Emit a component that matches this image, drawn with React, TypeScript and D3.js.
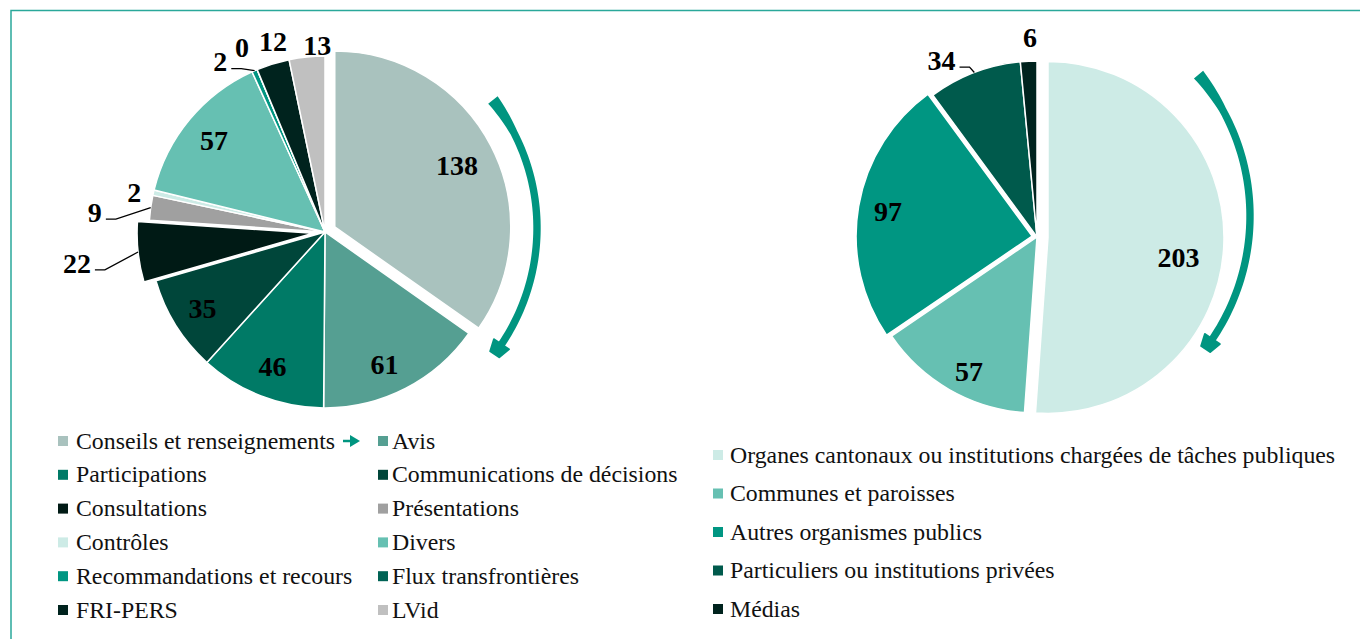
import React, { useEffect, useRef } from 'react';
import * as d3 from 'd3';

// left pie: kinds of activity
const activityLabels = [
  'Conseils et renseignements',
  'Avis',
  'Participations',
  'Communications de décisions',
  'Consultations',
  'Présentations',
  'Contrôles',
  'Divers',
  'Recommandations et recours',
  'Flux transfrontières',
  'FRI-PERS',
  'LVid',
];
const activityValues = [138, 61, 46, 35, 22, 9, 2, 57, 2, 0, 12, 13];
const activityColors = [
  '#a9c2be', '#559f92', '#007a66', '#00463a', '#001a15', '#a0a0a0',
  '#cdebe6', '#66c0b2', '#009682', '#006355', '#00231e', '#c0c0c0',
];

// right pie: kinds of requester
const requesterLabels = [
  'Organes cantonaux ou institutions chargées de tâches publiques',
  'Communes et paroisses',
  'Autres organismes publics',
  'Particuliers ou institutions privées',
  'Médias',
];
const requesterValues = [203, 57, 97, 34, 6];
const requesterColors = ['#cdebe6', '#66c0b2', '#009682', '#005a4c', '#00231e'];

const FONT = 'Liberation Serif';
const ARROW = '#009580';

interface Slice {
  label: string;
  value: number;
  color: string;
}

interface LabelPlace {
  r: number;
  da: number;
  leader?: boolean;
}

interface PieOptions {
  cx: number;
  cy: number;
  r: number;
  inner: number;
  explode: Record<string, number>;
  place: Record<string, LabelPlace>;
}

const polar = (a: number, rad: number): [number, number] => [Math.sin(a) * rad, -Math.cos(a) * rad];

function drawPie(svg: d3.Selection<SVGSVGElement, unknown, null, undefined>, slices: Slice[], opts: PieOptions) {
  const pie = d3.pie<Slice>().sort(null).value(d => d.value);
  const arcs = pie(slices);
  const arc = d3.arc<d3.PieArcDatum<Slice>>().innerRadius(0).outerRadius(opts.r);
  const mid = (d: d3.PieArcDatum<Slice>) => (d.startAngle + d.endAngle) / 2;
  const offset = (d: d3.PieArcDatum<Slice>) => polar(mid(d), opts.explode[d.data.label] || 0);

  const g = svg.append('g').attr('transform', `translate(${opts.cx},${opts.cy})`);

  g.selectAll('path.slice')
    .data(arcs)
    .enter()
    .append('path')
    .attr('class', 'slice')
    .attr('transform', d => `translate(${offset(d)[0]},${offset(d)[1]})`)
    .attr('d', arc)
    .attr('fill', d => d.data.color)
    .attr('stroke', '#fff')
    .attr('stroke-width', 1.5)
    .attr('stroke-linejoin', 'round');

  arcs.forEach(d => {
    const [ox, oy] = offset(d);
    const p = opts.place[d.data.label];
    let x: number, y: number;
    if (!p) {
      [x, y] = polar(mid(d), opts.r * opts.inner);
    } else {
      [x, y] = polar(mid(d) + (p.da * Math.PI) / 180, p.r);
    }
    x += ox;
    y += oy;
    const txt = String(d.data.value);
    g.append('text')
      .attr('x', x)
      .attr('y', y)
      .attr('dy', '0.35em')
      .attr('text-anchor', 'middle')
      .attr('font-family', FONT)
      .attr('font-weight', 'bold')
      .attr('font-size', 28)
      .attr('fill', '#000')
      .text(txt);

    if (p && p.leader) {
      const half = (txt.length * 14) / 2;
      const x0 = x + half + 4;
      const y0 = y + 7;
      const [ex, ey] = polar(mid(d), opts.r);
      g.append('path')
        .attr('d', `M${x0},${y0}H${x0 + 10}L${ex + ox},${ey + oy}`)
        .attr('fill', 'none')
        .attr('stroke', '#000')
        .attr('stroke-width', 1.3);
    }
  });
}

// curved arrow running clockwise beside a pie
function drawArrow(svg: d3.Selection<SVGSVGElement, unknown, null, undefined>, cx: number, cy: number, r: number, a0: number, a1: number) {
  const start = (a0 * Math.PI) / 180;
  const headAt = ((a1 - 4) * Math.PI) / 180;
  const steps = 60;
  const outer: [number, number][] = [];
  const inner: [number, number][] = [];
  for (let i = 0; i <= steps; i++) {
    const t = i / steps;
    const a = start + (headAt - start) * t;
    const w = t < 0.15 ? 6 - (t / 0.15) * 2.3 : 3.7;
    const [x1, y1] = polar(a, r + w);
    const [x2, y2] = polar(a, r - w);
    outer.push([cx + x1, cy + y1]);
    inner.push([cx + x2, cy + y2]);
  }
  const band = outer.concat(inner.reverse());
  svg.append('path')
    .attr('d', 'M' + band.map(p => p.join(',')).join('L') + 'Z')
    .attr('fill', ARROW);

  // arrow head
  const [bx, by] = polar(headAt, r);
  const tx = Math.cos(headAt);
  const ty = Math.sin(headAt);
  const nx = Math.sin(headAt);
  const ny = -Math.cos(headAt);
  const base = [cx + bx, cy + by];
  const hw = 9;
  const hl = 12;
  const head = [
    [base[0] + nx * hw, base[1] + ny * hw],
    [base[0] + nx * hw * 0.6 + tx * hl, base[1] + ny * hw * 0.6 + ty * hl],
    [base[0] - nx * hw * 0.6 + tx * hl, base[1] - ny * hw * 0.6 + ty * hl],
    [base[0] - nx * hw, base[1] - ny * hw],
  ];
  svg.append('path')
    .attr('d', 'M' + head.map(p => p.join(',')).join('L') + 'Z')
    .attr('fill', ARROW)
    .attr('stroke', ARROW)
    .attr('stroke-width', 2)
    .attr('stroke-linejoin', 'round');
}

function drawLegend(
  svg: d3.Selection<SVGSVGElement, unknown, null, undefined>,
  labels: string[],
  colors: string[],
  cols: { sx: number; tx: number }[],
  y0: number,
  step: number,
) {
  labels.forEach((label, i) => {
    const col = cols[i % cols.length];
    const row = Math.floor(i / cols.length);
    const y = y0 + row * step;
    svg.append('rect')
      .attr('x', col.sx)
      .attr('y', y - 5)
      .attr('width', 10)
      .attr('height', 10)
      .attr('fill', colors[i]);
    svg.append('text')
      .attr('x', col.tx)
      .attr('y', y + 7.5)
      .attr('font-family', FONT)
      .attr('font-size', 23.8)
      .attr('fill', '#111')
      .text(label);
  });
}

export default function App() {
  const svgRef = useRef<SVGSVGElement>(null);

  useEffect(() => {
    if (!svgRef.current) return;
    const svg = d3.select(svgRef.current);
    svg.selectAll('*').remove();

    svg.append('rect').attr('width', 1360).attr('height', 639).attr('fill', '#fff');

    // frame
    svg.append('path')
      .attr('d', 'M11,639V10.5H1360')
      .attr('fill', 'none')
      .attr('stroke', '#2aa89a')
      .attr('stroke-width', 1.5);

    const activity: Slice[] = activityLabels.map((label, i) => ({
      label,
      value: activityValues[i],
      color: activityColors[i],
    }));
    const requester: Slice[] = requesterLabels.map((label, i) => ({
      label,
      value: requesterValues[i],
      color: requesterColors[i],
    }));

    drawPie(svg, activity, {
      cx: 325,
      cy: 232,
      r: 176,
      inner: 0.82,
      explode: { 'Conseils et renseignements': 11, Consultations: 12 },
      place: {
        'Conseils et renseignements': { r: 137, da: 0.5 },
        Avis: { r: 145, da: 3 },
        Consultations: { r: 238, da: -1, leader: true },
        Présentations: { r: 231, da: -3, leader: true },
        Contrôles: { r: 195, da: -1 },
        'Recommandations et recours': { r: 200, da: -8, leader: true },
        'Flux transfrontières': { r: 203, da: -1.5 },
        'FRI-PERS': { r: 198, da: 2 },
        LVid: { r: 187, da: 3.5 },
      },
    });

    drawPie(svg, requester, {
      cx: 1037,
      cy: 237,
      r: 176,
      inner: 0.83,
      explode: {
        'Organes cantonaux ou institutions chargées de tâches publiques': 11,
        'Autres organismes publics': 5,
      },
      place: {
        'Organes cantonaux ou institutions chargées de tâches publiques': { r: 132, da: 6.5 },
        'Communes et paroisses': { r: 150, da: -3 },
        'Particuliers ou institutions privées': { r: 201, da: -7.5, leader: true },
        Médias: { r: 200, da: 0.7 },
      },
    });

    drawArrow(svg, 329, 228, 208, 52, 128);
    drawArrow(svg, 1030, 216, 220, 50, 128);

    drawLegend(svg, activityLabels, activityColors, [{ sx: 58, tx: 76 }, { sx: 378, tx: 392 }], 441, 33.8);
    drawLegend(svg, requesterLabels, requesterColors, [{ sx: 713, tx: 730 }], 455, 38.5);

    // small arrow between the first two legend entries
    svg.append('path')
      .attr('d', 'M343,441H352')
      .attr('stroke', ARROW)
      .attr('stroke-width', 2.5);
    svg.append('path')
      .attr('d', 'M350,435L360,441L350,447Z')
      .attr('fill', ARROW);
  }, []);

  return (
    <svg
      ref={svgRef}
      width={1360}
      height={639}
      style={{ position: 'absolute', left: 0, top: 0, display: 'block' }}
    />
  );
}
